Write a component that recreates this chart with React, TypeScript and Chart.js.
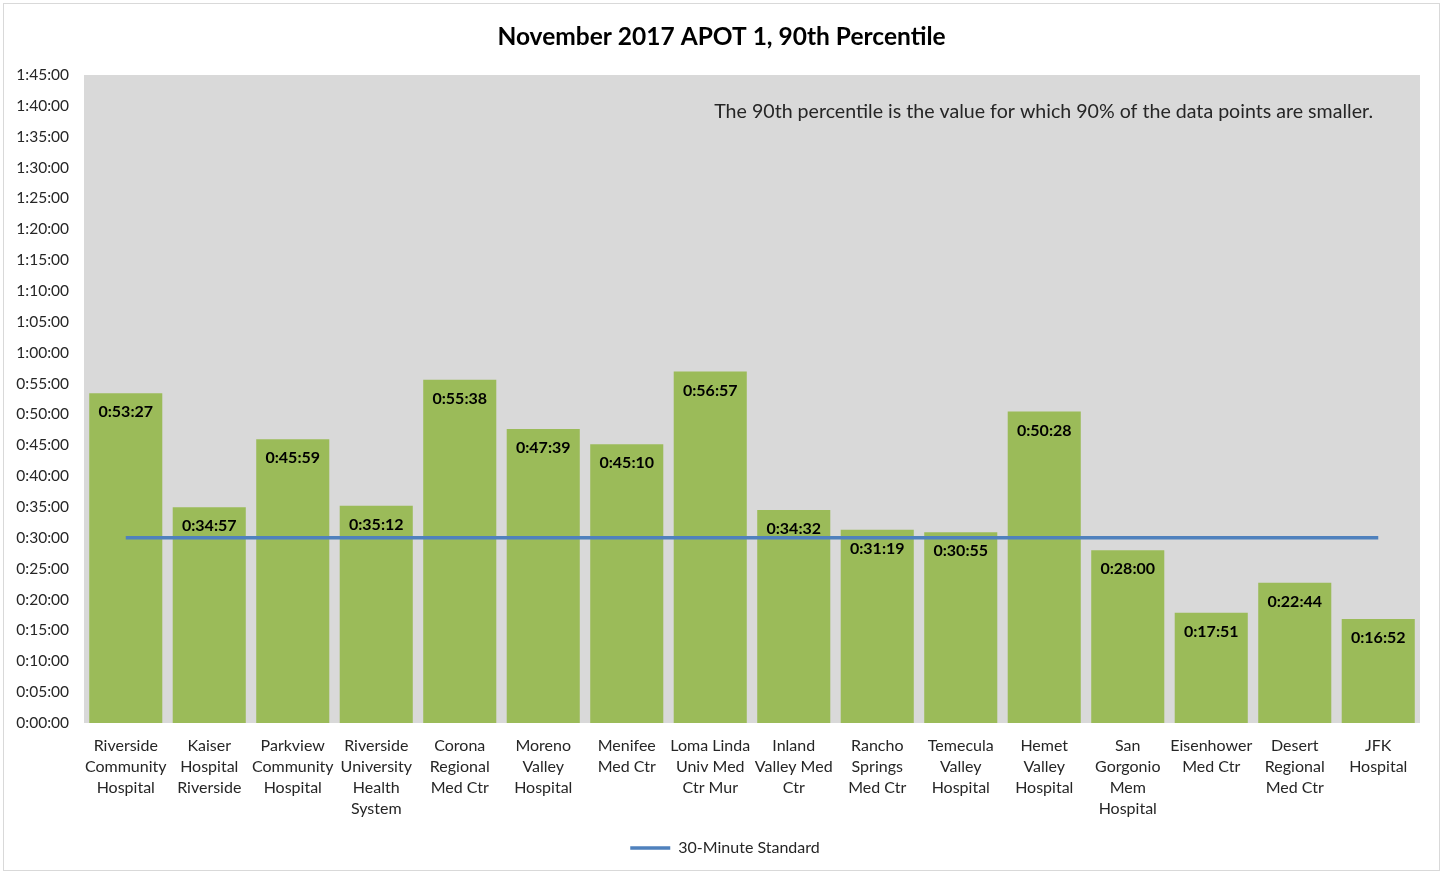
import React, { useEffect, useRef } from "react";
import { Chart, registerables } from "chart.js";

Chart.register(...registerables);

const TITLE = "November 2017 APOT 1, 90th Percentile";
const NOTE = "The 90th percentile is the value for which 90% of the data points are smaller.";

const hospitals: string[][] = [
  ["Riverside", "Community", "Hospital"],
  ["Kaiser", "Hospital", "Riverside"],
  ["Parkview", "Community", "Hospital"],
  ["Riverside", "University", "Health", "System"],
  ["Corona", "Regional", "Med Ctr"],
  ["Moreno", "Valley", "Hospital"],
  ["Menifee", "Med Ctr"],
  ["Loma Linda", "Univ Med", "Ctr Mur"],
  ["Inland", "Valley Med", "Ctr"],
  ["Rancho", "Springs", "Med Ctr"],
  ["Temecula", "Valley", "Hospital"],
  ["Hemet", "Valley", "Hospital"],
  ["San", "Gorgonio", "Mem", "Hospital"],
  ["Eisenhower", "Med Ctr"],
  ["Desert", "Regional", "Med Ctr"],
  ["JFK", "Hospital"],
];

const apot90: string[] = [
  "0:53:27", "0:34:57", "0:45:59", "0:35:12", "0:55:38", "0:47:39", "0:45:10", "0:56:57",
  "0:34:32", "0:31:19", "0:30:55", "0:50:28", "0:28:00", "0:17:51", "0:22:44", "0:16:52",
];

const STANDARD = "0:30:00";
const Y_MAX = "1:45:00";
const Y_STEP = "0:05:00";

const toSec = (s: string) => {
  const [h, m, sec] = s.split(":").map(Number);
  return h * 3600 + m * 60 + sec;
};
const fmt = (v: number) => {
  const h = Math.floor(v / 3600);
  const m = Math.floor((v % 3600) / 60);
  const s = Math.round(v % 60);
  return `${h}:${String(m).padStart(2, "0")}:${String(s).padStart(2, "0")}`;
};

const FONT = "Lato, 'Noto Sans', sans-serif";
const TEXT = "#262626";

const decorPlugin = {
  id: "decor",
  afterLayout(chart: any) {
    if (chart.legend) {
      chart.legend.left += 13;
      chart.legend.right += 13;
    }
  },
  beforeDraw(chart: any) {
    const { ctx, chartArea: a } = chart;
    ctx.save();
    ctx.fillStyle = "#d9d9d9";
    ctx.fillRect(a.left, a.top, a.right - a.left, a.bottom - a.top);
    ctx.restore();
  },
  afterDatasetsDraw(chart: any) {
    const { ctx } = chart;
    const meta = chart.getDatasetMeta(0);
    ctx.save();
    ctx.font = `bold 16px ${FONT}`;
    ctx.fillStyle = "#000";
    ctx.textAlign = "center";
    ctx.textBaseline = "middle";
    meta.data.forEach((el: any, i: number) => {
      ctx.fillText(apot90[i], el.x, el.y + 19);
    });
    ctx.restore();
  },
  afterDraw(chart: any) {
    const { ctx, chartArea: a, width } = chart;
    ctx.save();
    ctx.fillStyle = "#000";
    ctx.font = `bold 24.5px ${FONT}`;
    ctx.textAlign = "center";
    ctx.textBaseline = "middle";
    ctx.fillText(TITLE, width / 2, 33);
    ctx.font = `19.6px ${FONT}`;
    ctx.fillStyle = TEXT;
    ctx.textAlign = "right";
    ctx.fillText(NOTE, a.right - 47, a.top + 37);
    ctx.restore();
  },
};

export default function App() {
  const ref = useRef<HTMLCanvasElement>(null);
  useEffect(() => {
    if (!ref.current) return;
    const values = apot90.map(toSec);
    const std = hospitals.map(() => toSec(STANDARD));
    const chart = new Chart(ref.current, {
      type: "bar",
      data: {
        labels: hospitals,
        datasets: [
          {
            type: "bar",
            label: "APOT 1, 90th Percentile",
            data: values,
            backgroundColor: "#9bbb59",
            barPercentage: 0.875,
            categoryPercentage: 1,
            order: 2,
          },
          {
            type: "line",
            label: "30-Minute Standard",
            data: std,
            borderColor: "#4f81bd",
            backgroundColor: "#4f81bd",
            borderWidth: 3.5,
            pointRadius: 0,
            pointStyle: "line",
            order: 1,
          } as any,
        ],
      },
      options: {
        responsive: false,
        animation: false,
        layout: { padding: { left: 0, right: 19, top: 71, bottom: 4 } },
        plugins: {
          title: { display: false },
          tooltip: { enabled: false },
          legend: {
            position: "bottom",
            labels: {
              filter: (item: any) => item.datasetIndex === 1,
              usePointStyle: true,
              pointStyle: "line",
              pointStyleWidth: 40,
              font: { family: FONT, size: 16 },
              color: TEXT,
              padding: 10,
            },
          },
        },
        scales: {
          x: {
            grid: { display: false, drawTicks: false },
            border: { display: false },
            ticks: {
              color: TEXT,
              font: { family: FONT, size: 16, lineHeight: 1.31 },
              padding: 12,
              maxRotation: 0,
              autoSkip: false,
            },
            afterFit: (s: any) => {
              s.height = 107;
            },
          },
          y: {
            min: 0,
            max: toSec(Y_MAX),
            grid: { display: false, drawTicks: false },
            border: { display: false },
            ticks: {
              stepSize: toSec(Y_STEP),
              color: TEXT,
              font: { family: FONT, size: 15.5 },
              padding: 15,
              callback: (v: any) => fmt(Number(v)),
            },
            afterFit: (s: any) => {
              s.width = 80;
            },
          },
        },
      },
      plugins: [decorPlugin],
    });
    return () => chart.destroy();
  }, []);
  return (
    <div
      style={{
        position: "fixed",
        left: 3,
        top: 3,
        width: 1437,
        height: 868,
        border: "1px solid #d9d9d9",
        boxSizing: "border-box",
        background: "#fff",
      }}
    >
      <canvas ref={ref} width={1435} height={866} style={{ display: "block" }} />
    </div>
  );
}
